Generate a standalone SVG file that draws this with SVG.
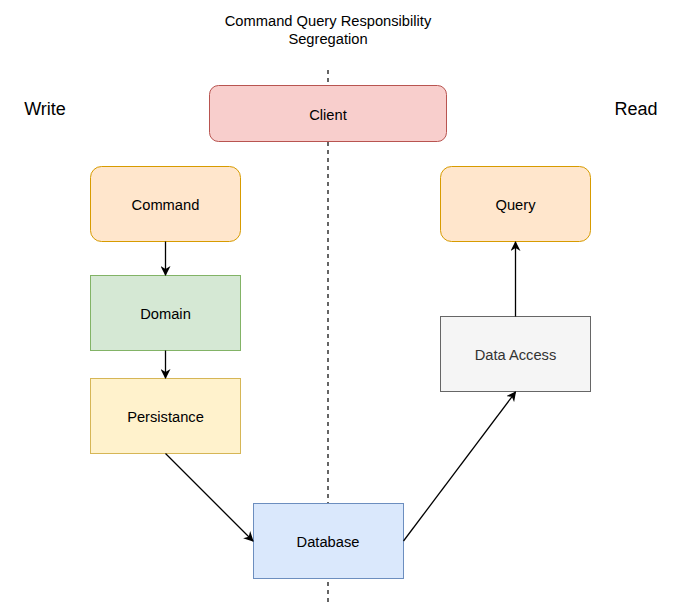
<svg xmlns="http://www.w3.org/2000/svg" width="680" height="608" viewBox="0 0 680 608">
<defs>
<marker id="arr" viewBox="0 0 10 10" refX="9" refY="5" markerWidth="10" markerHeight="10" markerUnits="userSpaceOnUse" orient="auto">
<path d="M0,0 L10,5 L0,10 L3,5 z" fill="#000"/>
</marker>
</defs>
<style>
text{font-family:"Liberation Sans",Arial,sans-serif;font-size:14.7px;text-anchor:middle;fill:#000}
.big{font-size:18px}
.e{fill:none;stroke:#000;stroke-width:1.3;marker-end:url(#arr)}
</style>
<rect width="680" height="608" fill="#fff"/>
<g id="divider"><line x1="328" y1="70" x2="328" y2="602" stroke="#333" stroke-width="1.5" stroke-dasharray="4 4"/></g>
<g id="title"><text x="328" y="26">Command Query Responsibility</text><text x="328" y="44">Segregation</text></g>
<g id="write"><text class="big" x="45" y="115">Write</text></g>
<g id="read"><text class="big" x="636" y="115">Read</text></g>
<g id="client"><rect x="209.5" y="85.5" width="237" height="56" rx="9" fill="#f8cecc" stroke="#b85450"/><text x="328" y="119.5">Client</text></g>
<g id="command"><rect x="90.5" y="166.5" width="150" height="75" rx="11" fill="#ffe6cc" stroke="#d79b00"/><text x="165.5" y="210">Command</text></g>
<g id="domain"><rect x="90.5" y="275.5" width="150" height="75" fill="#d5e8d4" stroke="#82b366"/><text x="165.5" y="319">Domain</text></g>
<g id="persistance"><rect x="90.5" y="378.5" width="150" height="75" fill="#fff2cc" stroke="#d6b656"/><text x="165.5" y="422">Persistance</text></g>
<g id="database"><rect x="253.5" y="503.5" width="150" height="75" fill="#dae8fc" stroke="#6c8ebf"/><text x="328" y="547">Database</text></g>
<g id="query"><rect x="440.5" y="166.5" width="150" height="75" rx="11" fill="#ffe6cc" stroke="#d79b00"/><text x="515.5" y="210">Query</text></g>
<g id="dataaccess"><rect x="440.5" y="316.5" width="150" height="75" fill="#f5f5f5" stroke="#666666"/><text x="515.5" y="360" style="fill:#333333">Data Access</text></g>
<g id="connectors">
<path class="e" d="M165.5,241.5 L165.5,275"/>
<path class="e" d="M165.5,350.5 L165.5,378"/>
<path class="e" d="M165.5,453.5 L253,541"/>
<path class="e" d="M403.5,541 L515.5,392"/>
<path class="e" d="M515.5,316.5 L515.5,242"/>
</g>
</svg>
